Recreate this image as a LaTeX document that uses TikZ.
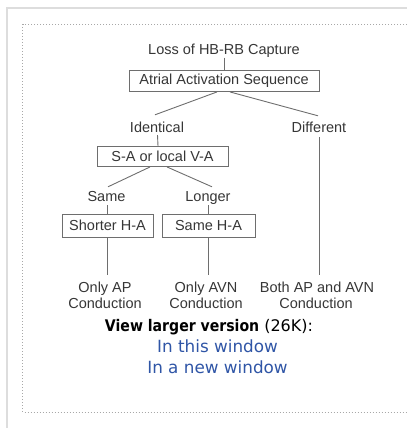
\documentclass[tikz,border=0pt]{standalone}
\usepackage{fontspec}
\usepackage{graphicx}
\setmainfont{Liberation Sans}
\newfontfamily\uifont{DejaVu Sans}
\usetikzlibrary{calc}

\definecolor{framegray}{HTML}{DDDDDD}
\definecolor{dotgray}{HTML}{A8A8A8}
\definecolor{txtgray}{HTML}{363636}
\definecolor{linegray}{HTML}{6E6E6E}
\definecolor{linkblue}{HTML}{2F55A6}

\tikzset{
  lbl/.style={font=\fontsize{14.5}{16}\selectfont, text=txtgray, inner sep=0pt,
              text height=10.5pt, text depth=0pt, anchor=base},
  stepbox/.style={draw=linegray, line width=0.9pt, font=\fontsize{14.5}{16}\selectfont,
              text=txtgray, inner sep=0pt, minimum height=21pt},
  conn/.style={draw=linegray, line width=0.9pt},
  uitext/.style={font=\uifont\fontsize{16}{18}\selectfont, inner sep=0pt, anchor=base},
  linktext/.style={font=\uifont\fontsize{16.8}{18}\selectfont, inner sep=0pt, anchor=base,
              text=linkblue}
}

\begin{document}
\begin{tikzpicture}[x=1pt, y=-1pt]
\useasboundingbox (0,0) rectangle (407,428);

% page frame and dotted figure frame
\draw[framegray, line width=2pt] (6.5,428) -- (6.5,8.5) -- (407,8.5);
\draw[dotgray, line width=1pt, dash pattern=on 1pt off 2pt]
  (407,24.5) -- (22.5,24.5) -- (22.5,412) -- (407,412);

% decision tree
\node[lbl] (loss) at (224,55) {Loss of HB-RB Capture};
\node[stepbox, minimum width=190pt] (atrial) at (224,81) {Atrial Activation Sequence};
\node[lbl] (ident) at (157,132) {Identical};
\node[lbl] (diff) at (319,132) {Different};
\node[stepbox, minimum width=131pt, minimum height=20pt] (sa) at (162.5,156.5) {S-A or local V-A};
\node[lbl] (same) at (106.5,201) {Same};
\node[lbl] (longer) at (208,201) {Longer};
\node[stepbox, minimum width=91pt, minimum height=23pt] (shorter) at (107.5,225.5) {Shorter H-A};
\node[stepbox, minimum width=93pt, minimum height=23pt] (sameha) at (208.5,225.5) {Same H-A};

\node[lbl] (apA) at (105,292) {Only AP};
\node[lbl] (apB) at (105,308) {Conduction};
\node[lbl] (avnA) at (206,292) {Only AVN};
\node[lbl] (avnB) at (206,308) {Conduction};
\node[lbl] (bothA) at (317,292) {Both AP and AVN};
\node[lbl] (bothB) at (316,308) {Conduction};

% connectors
\draw[conn] ($(loss.south)+(0,2.5)$) -- (atrial.north);
\draw[conn] ($(atrial.south)+(-7,0)$) -- ($(ident.north)+(-2,-6.5)$);
\draw[conn] ($(atrial.south)+(6,0)$) -- ($(diff.north)+(-1,-5.5)$);
\draw[conn] ($(ident.south)+(0.5,3)$) -- ($(sa.north)+(-4.5,0)$);
\draw[conn] ($(sa.south)+(-12.5,0)$) -- ($(same.north)+(1.5,-3.5)$);
\draw[conn] ($(sa.south)+(4.5,0)$) -- ($(longer.north)+(4,-3.5)$);
\draw[conn] ($(same.south)+(0.5,4)$) -- ($(shorter.north)+(-0.5,0)$);
\draw[conn] ($(longer.south)+(0,4)$) -- ($(sameha.north)+(-0.5,0)$);
\draw[conn] ($(shorter.south)+(-0.5,0)$) -- ($(apA.north)+(2,-6.5)$);
\draw[conn] ($(sameha.south)+(-0.5,0)$) -- ($(avnA.north)+(2,-6.5)$);
\draw[conn] ($(diff.south)+(0,5)$) -- ($(bothA.north)+(2,-6.5)$);

% links below the figure
\node[uitext] (view) at (209,331)
  {\scalebox{0.88}[1]{\textbf{View larger version}} (26K):};
\node[linktext] (thiswin) at (217.5,352) {In this window};
\node[linktext] (newwin) at (217.5,373) {In a new window};
\end{tikzpicture}
\end{document}
